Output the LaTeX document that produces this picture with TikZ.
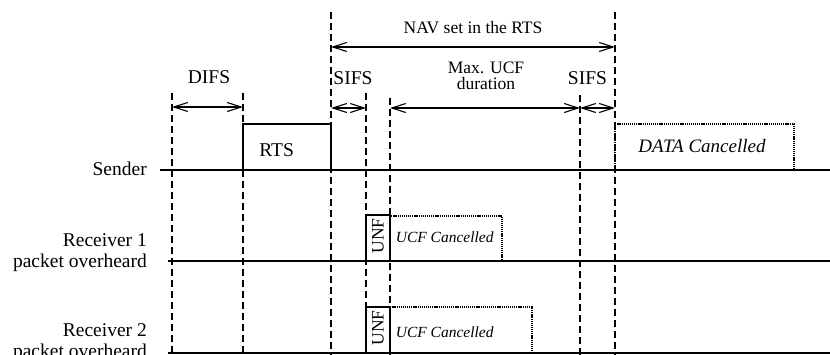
\documentclass[tikz,border=0pt]{standalone}
\usepackage{fontspec}
\setmainfont{Liberation Serif}
\usetikzlibrary{arrows.meta}
\begin{document}
\begin{tikzpicture}[x=1pt,y=-1pt,
  vdash/.style={dash pattern=on 7pt off 4pt, line width=1.1pt},
  hline/.style={line width=1.2pt},
  dotbox/.style={dash pattern=on 1.2pt off 0.9pt, line width=1.1pt},
  solidbox/.style={line width=1.2pt},
  barb/.tip={Straight Barb[length=14pt,width=9pt]},
  dim/.style={line width=1.1pt, barb-barb},
  big/.style={font=\fontsize{19.5}{21}\selectfont, inner sep=0pt},
  mid/.style={font=\fontsize{17.5}{16}\selectfont, inner sep=0pt},
  itbig/.style={font=\fontsize{19}{21}\selectfont\itshape, inner sep=0pt},
  itsmall/.style={font=\fontsize{15.5}{18}\selectfont\itshape, inner sep=0pt},
]
\useasboundingbox (0,0) rectangle (830,354);
% coordinates
\coordinate (t1) at (172,93);  \coordinate (b1) at (172,356);
\coordinate (t2) at (243,93);  \coordinate (b2) at (243,356);
\coordinate (t3) at (331,12);  \coordinate (b3) at (331,356);
\coordinate (t4) at (366,93);  \coordinate (b4) at (366,356);
\coordinate (t5) at (390,98);  \coordinate (b5) at (390,356);
\coordinate (t6) at (580,95);  \coordinate (b6) at (580,356);
\coordinate (t7) at (615,12);  \coordinate (b7) at (615,356);
% time lines
\coordinate (s0) at (160,170); \coordinate (s1) at (830,170);
\coordinate (r10) at (168,261); \coordinate (r11) at (830,261);
\coordinate (r20) at (168,353); \coordinate (r21) at (830,353);
% frames
\draw[solidbox] (243,170) -- (243,124) -- (331,124) -- (331,170);
\draw[dotbox] (615,170) -- (615,124) -- (794,124) -- (794,170);
\draw[solidbox] (366,261) rectangle (390,215);
\draw[dotbox] (390,261) -- (390,216) -- (502,216) -- (502,261);
\draw[solidbox] (366,353) rectangle (390,307);
\draw[dotbox] (390,353) -- (390,307) -- (532,307) -- (532,353);
% dashed verticals
\foreach \i in {1,...,7} \draw[vdash] (t\i) -- (b\i);
\draw[hline] (s0) -- (s1);
\draw[hline] (r10) -- (r11);
\draw[hline] (r20) -- (r21);
% dimension arrows
\coordinate (n0) at (331,47); \coordinate (n1) at (615,47);
\coordinate (d0) at (172,107); \coordinate (d1) at (243,107);
\coordinate (a0) at (331,108); \coordinate (a1) at (366,108);
\coordinate (m0) at (390,108); \coordinate (m1) at (580,108);
\coordinate (c0) at (580,108); \coordinate (c1) at (615,108);
\draw[dim] (n0) -- (n1);
\draw[dim] (d0) -- (d1);
\draw[dim] (a0) -- (a1);
\draw[dim] (m0) -- (m1);
\draw[dim] (c0) -- (c1);
% labels
\node[mid, anchor=base] (nav) at (473,33) {NAV set in the RTS};
\node[big, anchor=base] (difs) at (209,83.5) {DIFS};
\node[big, anchor=base] (sifs1) at (353,84.5) {SIFS};
\node[big, anchor=base] (sifs2) at (587.5,84) {SIFS};
\node[mid, align=center] (ucf) at (486,75.5) {Max. UCF\\duration};
\node[big, anchor=base] (rts) at (276.7,156) {RTS};
\node[itbig, anchor=base] (data) at (702,152.7) {DATA Cancelled};
\node[mid, rotate=90] (unf1) at (378,236) {UNF};
\node[mid, rotate=90] (unf2) at (378,328) {UNF};
\node[itsmall, anchor=base] (ucf1) at (444.7,242.3) {UCF Cancelled};
\node[itsmall, anchor=base] (ucf2) at (444.7,337.7) {UCF Cancelled};
\node[big, anchor=base east] (snd) at (147,175) {Sender};
\node[big, align=right, anchor=east] (rx1) at (147,253) {Receiver 1\\packet overheard};
\node[big, align=right, anchor=east] (rx2) at (147,343) {Receiver 2\\packet overheard};
\end{tikzpicture}
\end{document}
